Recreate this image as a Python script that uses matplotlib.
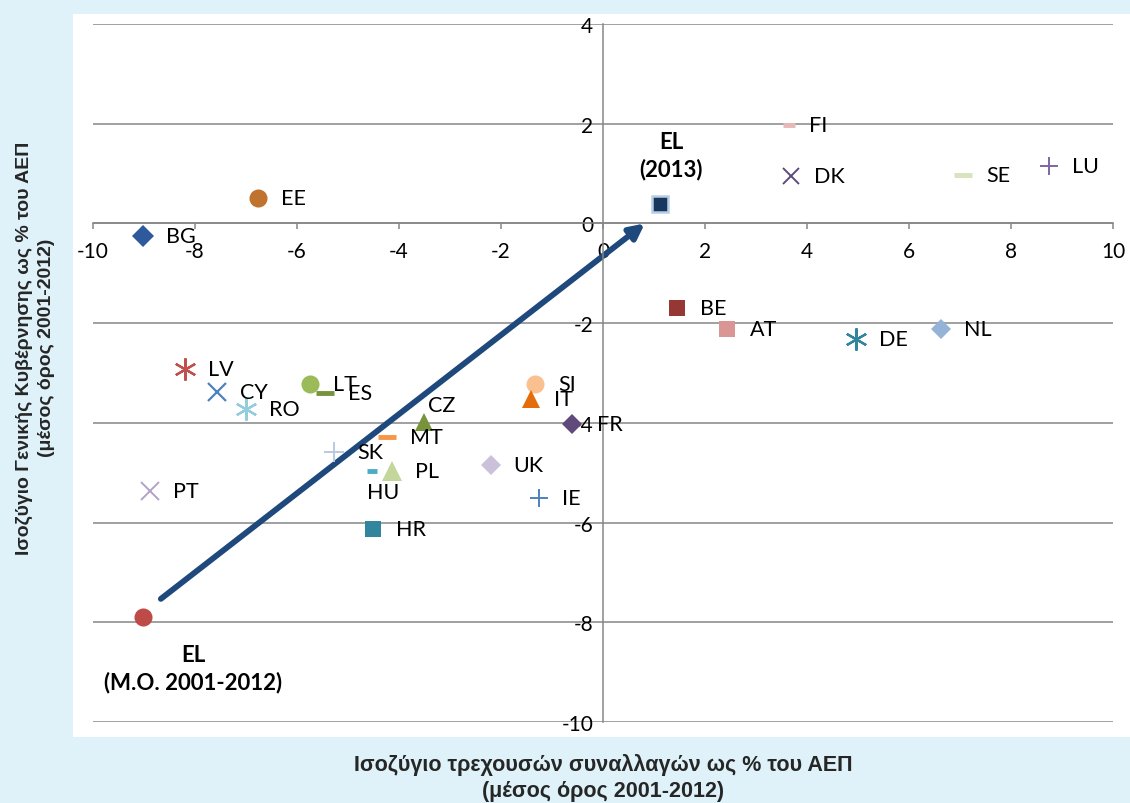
import matplotlib
matplotlib.use('Agg')
import matplotlib.pyplot as plt
from matplotlib.patches import Rectangle

plt.rcParams.update({
    'font.family': ['Lato', 'DejaVu Sans'],
    'axes.unicode_minus': False,
})

# current account balance (x) vs general government balance (y), % of GDP
countries = ['BG', 'EE', 'LV', 'CY', 'RO', 'LT', 'ES', 'PT', 'SK', 'MT',
             'CZ', 'HU', 'PL', 'HR', 'SI', 'IT', 'FR', 'UK', 'IE',
             'FI', 'DK', 'SE', 'LU', 'BE', 'AT', 'DE', 'NL']
current_account = [-9.02, -6.76, -8.2, -7.57, -7.0, -5.75, -5.45, -8.88, -5.27, -4.24,
                   -3.51, -4.53, -4.14, -4.51, -1.33, -1.41, -0.61, -2.2, -1.25,
                   3.65, 3.69, 7.06, 8.75, 1.45, 2.43, 4.96, 6.63]
gov_balance = [-0.25, 0.51, -2.92, -3.38, -3.72, -3.22, -3.40, -5.37, -4.58, -4.28,
               -3.98, -4.97, -4.97, -6.13, -3.22, -3.52, -4.02, -4.85, -5.51,
               1.98, 0.95, 0.97, 1.15, -1.70, -2.12, -2.32, -2.12]

el_avg = (-9.02, -7.89)
el_2013 = (1.12, 0.39)
arrow_tail = (-8.67, -7.53)
arrow_tip = (0.82, 0.0)

x_ticks = list(range(-10, 11, 2))
y_ticks = list(range(-10, 5, 2))

# marker, colour, size, edge width
STYLE = {
    'BG': ('D', '#2e5a9b', 11, 0),
    'EE': ('o', '#c0732f', 13, 0),
    'LV': ((6, 2, 0), '#c0504d', 16, 1.6),
    'CY': ('x', '#4f81bd', 13, 1.6),
    'RO': ((6, 2, 0), '#93cddd', 16, 1.6),
    'LT': ('o', '#9bbb59', 13, 0),
    'ES': ('_', '#77933c', 13, 3.5),
    'PT': ('x', '#b3a2c7', 13, 1.4),
    'SK': ('+', '#b9c9e5', 14, 1.4),
    'MT': ('_', '#f79646', 13, 3.5),
    'CZ': ('^', '#77933c', 13, 0),
    'HU': ('_', '#4bacc6', 7, 3.5),
    'PL': ('^', '#c3d69b', 14, 0),
    'HR': ('s', '#31859c', 12, 0),
    'SI': ('o', '#fac090', 13, 0),
    'IT': ('^', '#e46c0a', 13, 0),
    'FR': ('D', '#604a7b', 10, 0),
    'UK': ('D', '#ccc1da', 10, 0),
    'IE': ('+', '#4f81bd', 13, 1.4),
    'FI': ('_', '#e6b9b8', 8, 3.5),
    'DK': ('x', '#604a7b', 12, 1.4),
    'SE': ('_', '#d7e4bd', 13, 3.5),
    'LU': ('+', '#8064a2', 13, 1.4),
    'BE': ('s', '#953735', 12, 0),
    'AT': ('s', '#d99694', 12, 0),
    'DE': ((6, 2, 0), '#31859c', 16, 1.6),
    'NL': ('D', '#95b3d7', 10, 0),
}

# label offsets in points (default to the right)
LABEL_OFFSET = {
    'CZ': (3, 12, 'left'),
    'HU': (8, -15, 'center'),
    'FI': (14, 0, 'left'),
    'FR': (18, 0, 'left'),
}

fig = plt.figure(figsize=(11.3, 8.04), dpi=100)
fig.patch.set_facecolor('#dff2f9')
fig.patches.append(Rectangle((0.0646, 0.0821), 0.9354, 0.899, transform=fig.transFigure,
                             facecolor='white', edgecolor='none', zorder=-10))

ax = fig.add_axes([0.0823, 0.1007, 0.9027, 0.8682])
ax.set_zorder(5)
ax.set_facecolor('none')
ax.set_xlim(-10, 10)
ax.set_ylim(-10, 4)

for side in ['top', 'right']:
    ax.spines[side].set_visible(False)
ax.spines['left'].set_position(('data', 0))
ax.spines['bottom'].set_position(('data', 0))
for side in ['left', 'bottom']:
    ax.spines[side].set_color('#868686')
    ax.spines[side].set_linewidth(1.1)

ax.set_xticks(x_ticks)
ax.set_yticks(y_ticks)
ax.set_xticklabels([str(t) for t in x_ticks])
ax.set_yticklabels([str(t) for t in y_ticks])
ax.tick_params(axis='x', direction='out', length=4, width=1.1, color='#868686',
               labelsize=15, pad=9)
ax.tick_params(axis='y', length=0, labelsize=15, pad=7)
ax.yaxis.grid(True, color='#868686', linewidth=1.1)
ax.set_axisbelow(True)

for c, x, y in zip(countries, current_account, gov_balance):
    m, col, ms, mew = STYLE[c]
    ax.plot(x, y, marker=m, color=col, markersize=ms, markeredgewidth=mew,
            linestyle='none', zorder=3)
    dx, dy, ha = LABEL_OFFSET.get(c, (16.5, 0, 'left'))
    ax.annotate(c, (x, y), xytext=(dx, dy), textcoords='offset points',
                ha=ha, va='center', fontsize=15.5, color='black', zorder=4)

# Greece: average and 2013
ax.annotate('', xy=arrow_tip, xytext=arrow_tail,
            arrowprops=dict(arrowstyle='-|>', lw=4.2, color='#1f497d',
                            mutation_scale=22, shrinkA=0, shrinkB=0), zorder=2)
ax.plot(*el_avg, marker='o', color='#be4b48', markersize=13, markeredgewidth=0,
        linestyle='none', zorder=3)
ax.plot(*el_2013, marker='s', markerfacecolor='#17375e', markeredgecolor='#b9cde5',
        markersize=12, markeredgewidth=1.8, linestyle='none', zorder=3)
ax.annotate('EL\n(M.O. 2001-2012)', el_avg, xytext=(36, -37), textcoords='offset points',
            ha='center', va='center', fontsize=16, fontweight='bold',
            linespacing=1.35)
ax.annotate('EL\n(2013)', el_2013, xytext=(8, 35), textcoords='offset points',
            ha='center', va='center', fontsize=16, fontweight='bold',
            linespacing=1.35)

fig.text(0.534, 0.032, 'Ισοζύγιο τρεχουσών συναλλαγών ως % του ΑΕΠ\n(μέσος όρος 2001-2012)',
         ha='center', va='center', fontsize=15.5, fontweight='bold',
         family='Liberation Sans', color='#262626', linespacing=1.3)
fig.text(0.031, 0.567, 'Ισοζύγιο Γενικής Κυβέρνησης ως % του ΑΕΠ\n(μέσος όρος 2001-2012)',
         ha='center', va='center', rotation=90, fontsize=14, fontweight='bold',
         family='Liberation Sans', color='#262626', linespacing=1.4)

fig.savefig('out.png', dpi=100, facecolor=fig.get_facecolor())
